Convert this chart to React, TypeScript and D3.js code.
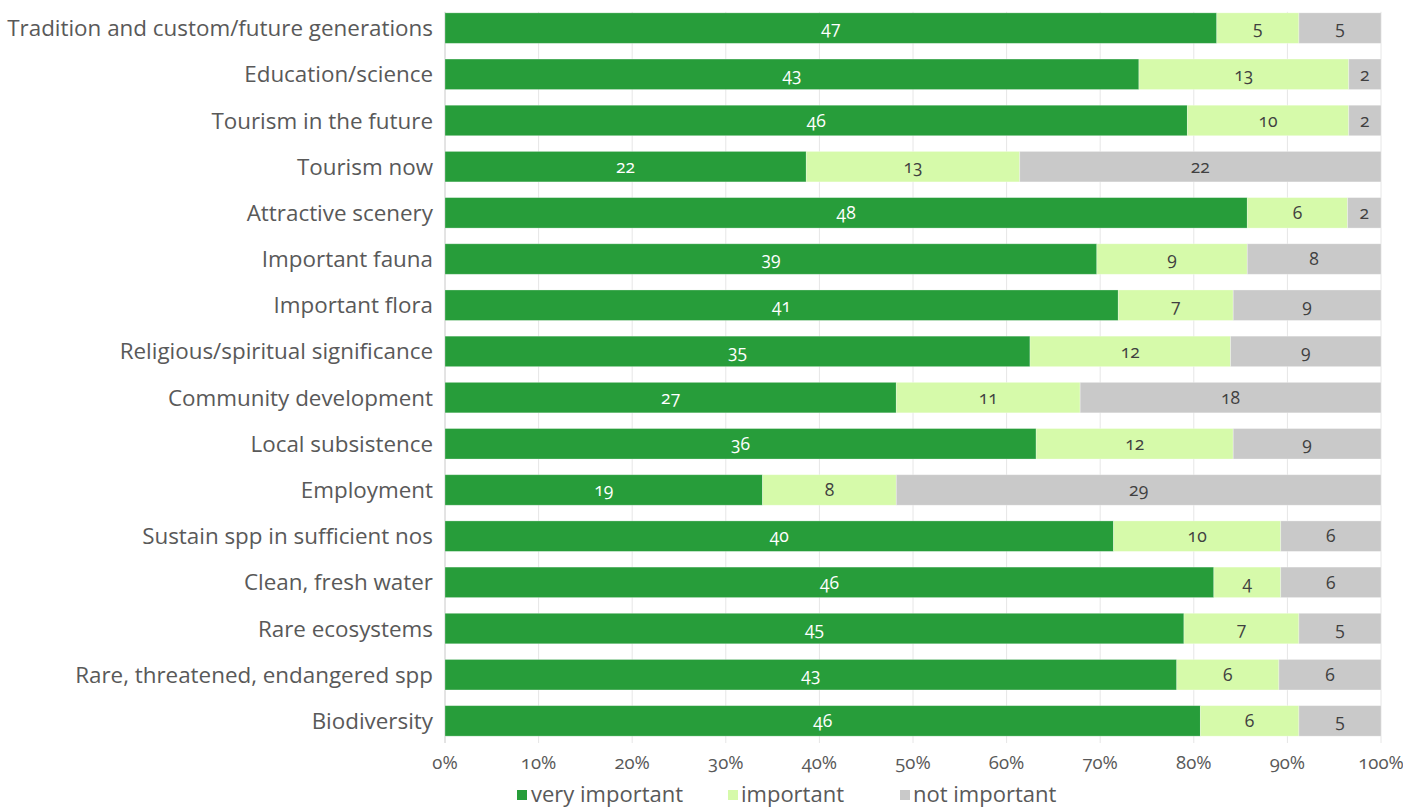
import React from "react";
import * as d3 from "d3";

const categories = [
  "Tradition and custom/future generations",
  "Education/science",
  "Tourism in the future",
  "Tourism now",
  "Attractive scenery",
  "Important fauna",
  "Important flora",
  "Religious/spiritual significance",
  "Community development",
  "Local subsistence",
  "Employment",
  "Sustain spp in sufficient nos",
  "Clean, fresh water",
  "Rare ecosystems",
  "Rare, threatened, endangered spp",
  "Biodiversity",
];

const veryImportant = [47, 43, 46, 22, 48, 39, 41, 35, 27, 36, 19, 40, 46, 45, 43, 46];
const important = [5, 13, 10, 13, 6, 9, 7, 12, 11, 12, 8, 10, 4, 7, 6, 6];
const notImportant = [5, 2, 2, 22, 2, 8, 9, 9, 18, 9, 29, 6, 6, 5, 6, 5];

const seriesNames = ["very important", "important", "not important"];
const seriesColors = ["#279D3A", "#D6FAAA", "#C9C9C9"];
const labelColors = ["#FFFFFF", "#404040", "#404040"];
const tickValues = [0, 0.1, 0.2, 0.3, 0.4, 0.5, 0.6, 0.7, 0.8, 0.9, 1];

const W = 1403;
const H = 809;
const FONT = "'Open Sans', 'Noto Sans', sans-serif";

export default function App() {
  const x = d3.scaleLinear().domain([0, 1]).range([445, 1381]);
  const y = d3
    .scaleBand<string>()
    .domain(categories)
    .range([5, 744])
    .paddingInner(0.34)
    .paddingOuter(0.17);

  const rows = categories.map((c, i) => ({
    cat: c,
    values: [veryImportant[i], important[i], notImportant[i]],
  }));
  const stack = d3
    .stack<any>()
    .keys([0, 1, 2] as any)
    .value((d: any, k: any) => {
      const tot = d.values[0] + d.values[1] + d.values[2];
      return d.values[k] / tot;
    });
  const stacked = stack(rows as any);

  const gridTop = (y(categories[0]) as number) - 1;
  const gridBottom = 743;
  const bw = y.bandwidth();

  const legendItems = [
    { sx: 517, tx: 531 },
    { sx: 728, tx: 741 },
    { sx: 900, tx: 913 },
  ];

  return (
    <svg
      width={W}
      height={H}
      style={{ position: "absolute", left: 0, top: 0, background: "#fff", fontFamily: FONT }}
    >
      <g>
        {tickValues.map((t, i) => (
          <line
            key={i}
            x1={x(t)}
            x2={x(t)}
            y1={gridTop}
            y2={gridBottom}
            stroke={i === 0 ? "#C8C8C8" : "#E6E6E6"}
            strokeWidth={1}
          />
        ))}
      </g>
      {stacked.map((s: any, si: number) => (
        <g key={si}>
          {s.map((d: any, i: number) => {
            const x0 = x(d[0]);
            const x1 = x(d[1]);
            const yy = y(categories[i]) as number;
            return (
              <g key={i}>
                <rect
                  x={x0}
                  y={yy}
                  width={x1 - x0}
                  height={bw}
                  fill={seriesColors[si]}
                  stroke="#ffffff"
                  strokeOpacity={0.35}
                  strokeWidth={0.8}
                />
                <text
                  x={(x0 + x1) / 2}
                  y={yy + bw / 2}
                  dy="0.36em"
                  textAnchor="middle"
                  fontSize={17.5}
                  fill={labelColors[si]}
                  style={{ fontVariantNumeric: "oldstyle-nums" }}
                >
                  {rows[i].values[si]}
                </text>
              </g>
            );
          })}
        </g>
      ))}
      <g>
        {categories.map((c) => (
          <text
            key={c}
            x={433}
            y={(y(c) as number) + bw / 2}
            dy="0.36em"
            textAnchor="end"
            fontSize={22.4}
            fill="#595959"
          >
            {c}
          </text>
        ))}
      </g>
      <g>
        {tickValues.map((t, i) => (
          <text
            key={i}
            x={x(t)}
            y={762}
            dy="0.36em"
            textAnchor="middle"
            fontSize={18.5}
            fill="#595959"
            style={{ fontVariantNumeric: "oldstyle-nums" }}
          >
            {d3.format(".0%")(t)}
          </text>
        ))}
      </g>
      <g>
        {seriesNames.map((n, i) => (
          <g key={n}>
            <rect x={legendItems[i].sx} y={790} width={10} height={10} fill={seriesColors[i]} />
            <text x={legendItems[i].tx} y={794} dy="0.36em" fontSize={22} fill="#595959">
              {n}
            </text>
          </g>
        ))}
      </g>
    </svg>
  );
}
